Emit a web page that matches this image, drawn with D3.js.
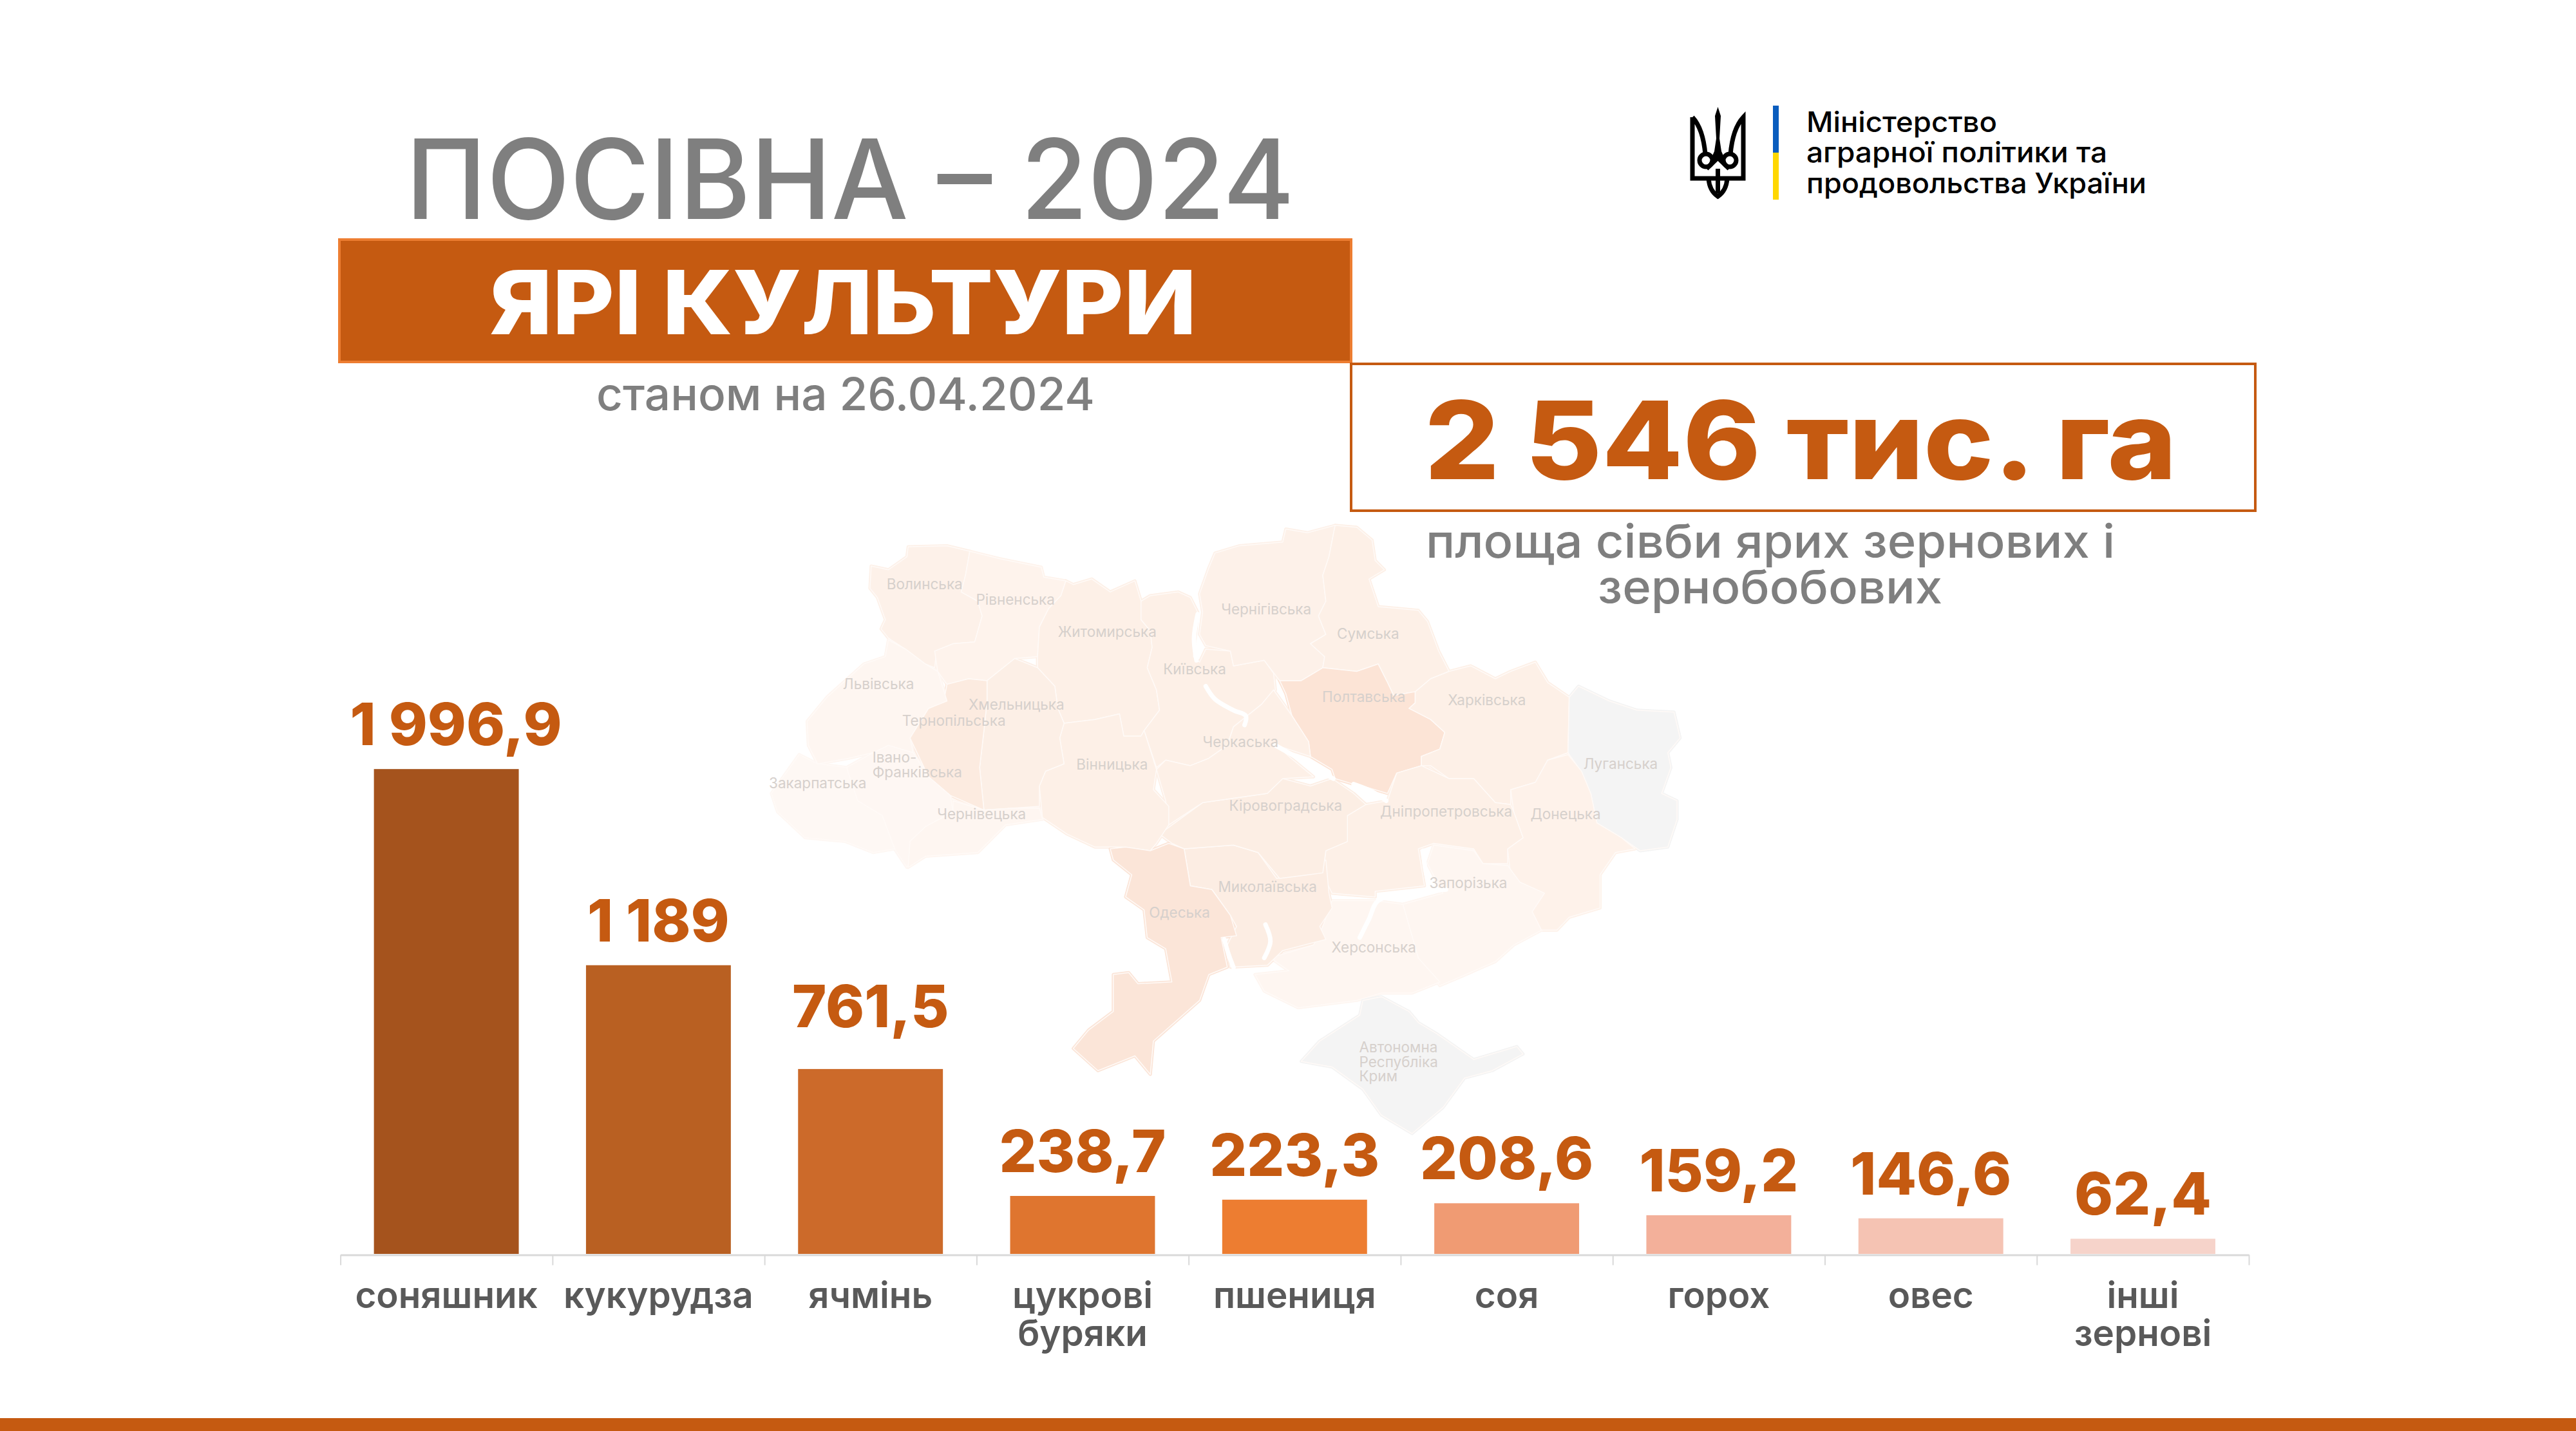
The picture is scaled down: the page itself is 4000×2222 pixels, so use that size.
<!DOCTYPE html>
<html><head><meta charset="utf-8">
<script src="https://cdn.jsdelivr.net/npm/d3@7/dist/d3.min.js"></script>
<style>html,body{margin:0;padding:0;background:#fff}svg{display:block}text{font-family:Inter,"Noto Sans",sans-serif}</style>
</head><body><svg id="c" width="4000" height="2222"></svg>
<script>
const categories=[["соняшник"],["кукурудза"],["ячмінь"],["цукрові","буряки"],["пшениця"],["соя"],["горох"],["овес"],["інші","зернові"]];
const values=[1996.9,1189,761.5,238.7,223.3,208.6,159.2,146.6,62.4];
const barColors=["#A5531D","#B96022","#CC6A2A","#DF752F","#ED7D31","#F09B73","#F3B09A","#F5C3B3","#F6D3CA"];
const regionNames=["Волинська","Рівненська","Житомирська","Київська","Чернігівська","Сумська","Полтавська","Харківська","Луганська","Донецька","Дніпропетровська","Запорізька","Херсонська","Миколаївська","Кіровоградська","Черкаська","Вінницька","Хмельницька","Тернопільська","Львівська","Івано-Франківська","Закарпатська","Чернівецька","Одеська","Автономна Республіка Крим"];
const regionFills=["#FDF1E9","#FEF3EC","#FDF0E7","#FDF0E7","#FDF1E9","#FDF0E7","#FCE4D6","#FDF0E7","#F4F4F4","#FEF2EA","#FDF0E7","#FEF6F1","#FEF6F1","#FCEDE3","#FCEEE4","#FDF0E7","#FDF0E7","#FCEFE6","#FCEBE0","#FEF6F1","#FEF7F3","#FEF8F4","#FEF6F1","#FBE5D8","#F4F4F4"];
const regionShapes=[
[[212,155],[240,165],[270,130],[272,103],[335,100],[372,115],[365,180],[358,225],[385,250],[392,290],[380,360],[345,365],[318,385],[315,430],[300,420],[268,380],[240,350],[228,325],[235,300],[222,240],[210,215]],
[[372,115],[420,135],[488,158],[492,185],[528,195],[520,235],[500,270],[485,320],[482,400],[445,405],[400,465],[370,460],[335,475],[320,440],[315,385],[345,365],[380,360],[392,290],[385,250],[358,225],[365,180]],
[[528,195],[540,205],[570,190],[600,225],[640,195],[650,250],[650,300],[665,330],[668,375],[660,430],[675,490],[680,545],[655,600],[650,615],[622,615],[615,555],[575,570],[525,580],[515,540],[510,480],[482,430],[482,400],[485,320],[500,270],[520,235]],
[[650,250],[665,235],[710,225],[730,240],[742,280],[735,400],[745,415],[755,380],[795,385],[800,425],[850,410],[865,445],[868,490],[845,530],[800,590],[790,640],[760,675],[730,695],[690,680],[675,700],[655,600],[680,545],[675,490],[660,430],[668,375],[665,330],[650,300]],
[[770,120],[810,100],[880,90],[885,55],[920,65],[965,45],[955,130],[945,180],[950,250],[938,290],[950,340],[925,365],[948,400],[945,430],[910,465],[875,465],[850,410],[800,425],[795,385],[755,370],[745,340],[750,280],[745,230],[760,160]],
[[965,45],[1000,50],[1025,85],[1030,140],[1045,165],[1020,190],[1035,265],[1100,275],[1115,305],[1133,385],[1150,440],[1120,460],[1095,495],[1060,505],[1050,470],[1035,420],[1000,440],[945,430],[948,400],[925,365],[950,340],[938,290],[950,250],[945,180],[955,130]],
[[875,465],[910,465],[945,430],[1000,440],[1035,420],[1050,470],[1060,505],[1095,495],[1095,525],[1085,540],[1120,570],[1143,605],[1135,650],[1105,670],[1105,695],[1065,715],[1050,770],[1020,755],[995,745],[965,730],[960,705],[925,670],[922,630],[895,560],[885,500]],
[[1120,460],[1150,440],[1185,425],[1225,460],[1250,440],[1290,415],[1310,470],[1345,510],[1343,660],[1310,680],[1290,740],[1250,760],[1250,800],[1225,795],[1190,730],[1150,730],[1120,695],[1105,695],[1105,670],[1135,650],[1143,605],[1120,570],[1085,540],[1095,525],[1095,495]],
[[1345,510],[1360,480],[1410,520],[1455,545],[1515,550],[1525,620],[1505,660],[1510,700],[1495,770],[1520,790],[1520,840],[1505,915],[1460,925],[1430,890],[1390,850],[1380,770],[1360,700],[1343,660]],
[[1343,665],[1365,710],[1380,770],[1390,850],[1430,890],[1452,920],[1420,930],[1395,990],[1395,1080],[1345,1105],[1325,1140],[1290,1140],[1270,1040],[1250,990],[1245,920],[1270,890],[1255,820],[1250,760],[1290,740],[1310,680]],
[[1065,715],[1105,695],[1150,730],[1190,730],[1225,795],[1250,800],[1255,820],[1270,890],[1245,920],[1245,960],[1205,960],[1190,920],[1125,905],[1100,920],[1110,1020],[1030,1035],[1030,1050],[960,1040],[945,990],[950,925],[985,900],[985,830],[1015,800],[1050,790]],
[[1125,910],[1190,925],[1205,960],[1245,965],[1265,1010],[1305,1040],[1285,1090],[1300,1140],[1255,1180],[1225,1225],[1170,1265],[1135,1290],[1100,1215],[1075,1070],[1140,1040],[1115,960]],
[[1030,1060],[1075,1070],[1100,1215],[1135,1280],[1090,1310],[1040,1310],[1000,1330],[905,1350],[850,1305],[835,1260],[890,1250],[860,1215],[930,1180],[945,1130],[960,1060]],
[[720,920],[800,910],[840,930],[870,1000],[920,990],[950,950],[955,1040],[960,1080],[940,1130],[950,1165],[880,1195],[855,1235],[795,1240],[790,1180],[805,1130],[795,1100],[765,1030],[730,1020]],
[[680,880],[750,795],[855,770],[880,730],[925,750],[960,730],[995,770],[1015,800],[985,830],[985,900],[950,925],[945,985],[875,1000],[840,930],[800,910],[720,920],[700,905]],
[[675,705],[690,680],[730,695],[760,675],[790,640],[800,590],[845,530],[865,490],[895,560],[922,630],[925,670],[870,640],[890,670],[930,725],[880,730],[855,770],[750,795],[695,855],[690,790]],
[[525,580],[575,570],[615,555],[622,615],[650,615],[655,600],[675,705],[670,760],[695,805],[695,855],[675,905],[665,925],[620,915],[575,915],[530,880],[490,835],[485,750],[495,710],[525,690],[518,620]],
[[400,465],[445,405],[482,430],[510,480],[515,540],[525,580],[518,620],[525,690],[495,710],[485,750],[485,805],[440,810],[395,815],[388,700],[395,600],[400,520]],
[[335,475],[370,460],[400,465],[400,520],[395,600],[388,700],[395,815],[340,775],[305,725],[275,620],[305,540],[330,520]],
[[240,355],[268,380],[300,420],[320,440],[335,520],[305,540],[275,620],[280,660],[240,640],[215,660],[175,675],[125,690],[110,640],[108,575],[140,510],[200,420],[235,400]],
[[280,660],[305,725],[340,775],[345,820],[300,860],[270,970],[250,920],[230,830],[190,790],[172,700],[215,660],[240,640]],
[[125,690],[172,700],[190,790],[230,830],[250,920],[215,930],[170,900],[105,890],[60,820],[50,770],[95,665]],
[[345,790],[395,815],[440,810],[485,810],[490,840],[430,855],[385,930],[300,940],[272,970],[275,900],[300,860],[345,820]],
[[600,920],[625,915],[665,925],[695,905],[720,920],[730,1020],[765,1030],[795,1100],[805,1155],[780,1160],[790,1240],[760,1260],[745,1330],[670,1440],[665,1530],[640,1480],[580,1520],[540,1460],[565,1410],[605,1360],[605,1260],[630,1255],[645,1285],[700,1280],[690,1190],[660,1160],[655,1085],[625,1050],[635,990],[605,950]],
[[1010,1330],[1040,1320],[1085,1360],[1100,1390],[1130,1420],[1190,1490],[1260,1455],[1270,1475],[1220,1520],[1175,1540],[1140,1620],[1090,1690],[1040,1640],[1010,1570],[960,1510],[910,1495],[940,1440],[1005,1370]]
];
const waterLines=[
[[742,285],[736,350],[740,410]],
[[755,480],[770,515],[800,545],[820,560],[818,585]],
[[868,640],[900,670],[940,710],[962,730]],
[[995,745],[1025,765],[1048,790]],
[[1145,1030],[1090,1040],[1035,1060],[1020,1110],[1005,1160]],
[[1108,925],[1112,980],[1120,1030]],
[[785,1165],[792,1205],[800,1240]],
[[852,1125],[860,1170],[850,1215]]
];
const regionLabels=[["Волинська",237,218],["Рівненська",382,260],["Житомирська",515,347],["Київська",686,448],["Чернігівська",780,286],["Сумська",968,352],["Полтавська",944,523],["Харківська",1148,531],["Луганська",1368,704],["Донецька",1282,840],["Дніпропетровська",1038,832],["Запорізька",1118,1027],["Херсонська",959,1201],["Миколаївська",775,1037],["Кіровоградська",793,817],["Черкаська",750,645],["Вінницька",545,706],["Хмельницька",370,544],["Тернопільська",262,587],["Львівська",166,488],["Івано-",214,687],["Франківська",214,727],["Закарпатська",46,756],["Чернівецька",319,840],["Одеська",663,1107],["Автономна",1004,1470],["Республіка",1004,1510],["Крим",1004,1549]];

const svg=d3.select("#c");
svg.append("rect").attr("width",4000).attr("height",2222).attr("fill","#fff");

// map
const mx=d3.scaleLinear().domain([0,1568]).range([1150,2650]);
const my=d3.scaleLinear().domain([0,1568]).range([790,1690]);
const ml=d3.line().x(d=>mx(d[0])).y(d=>my(d[1])).curve(d3.curveLinearClosed);
const wl=d3.line().x(d=>mx(d[0])).y(d=>my(d[1])).curve(d3.curveCatmullRom);
const map=svg.append("g");
map.append("g").selectAll("path").data(regionShapes).join("path").attr("d",ml)
  .attr("fill",(d,i)=>regionFills[i]).attr("stroke",(d,i)=>regionFills[i]).attr("stroke-width",5).attr("stroke-linejoin","round");
map.append("g").selectAll("path").data(regionShapes).join("path").attr("d",ml)
  .attr("fill",(d,i)=>regionFills[i]).attr("stroke","#FFFAF7").attr("stroke-width",1.5).attr("stroke-linejoin","round");
map.append("g").selectAll("path").data(waterLines).join("path").attr("d",wl)
  .attr("fill","none").attr("stroke","#fff").attr("stroke-width",7).attr("stroke-linecap","round");
map.append("g").selectAll("text").data(regionLabels).join("text").text(d=>d[0])
  .attr("x",d=>mx(d[1])).attr("y",d=>my(d[2])).attr("font-size",22.5).attr("fill","#D6D0CC");

// headings
function T(s,x,y,size,fill,weight,anchor,len){const t=svg.append("text").text(s).attr("x",x).attr("y",y).attr("font-size",size).attr("fill",fill).attr("font-weight",weight||400).attr("text-anchor",anchor||"start");
  if(len){t.attr("textLength",len).attr("lengthAdjust","spacingAndGlyphs");}return t;}
T("ПОСІВНА – 2024",630,340,172,"#7F7F7F",500,"start",1380);
svg.append("rect").attr("x",527).attr("y",372).attr("width",1571).attr("height",190).attr("fill","#C55A11").attr("stroke","#ED7D31").attr("stroke-width",4);
T("ЯРІ КУЛЬТУРИ",760,519,137,"#fff",800,"start",1098);
T("станом на 26.04.2024",926,637,70,"#7F7F7F",500,"start",774);
svg.append("rect").attr("x",2098).attr("y",565).attr("width",1404).attr("height",228).attr("fill","none").attr("stroke","#C55A11").attr("stroke-width",4);
T("2 546 тис. га",2212,744,168,"#C55A11",800,"start",1168);
T("площа сівби ярих зернових і",2214,866,72,"#7F7F7F",500,"start",1070);
T("зернобобових",2481,937,72,"#7F7F7F",500,"start",535);

// logo
const logo=svg.append("g");
logo.append("rect").attr("x",2753).attr("y",164).attr("width",9).attr("height",73).attr("fill","#0A5DBE");
logo.append("rect").attr("x",2753).attr("y",237).attr("width",9).attr("height",73).attr("fill","#FFD700");
const tri=logo.append("g").attr("fill","none").attr("stroke","#000").attr("stroke-width",7);
tri.append("path").attr("d","M2628 182V277H2707V182C2694 196 2689 216 2687 240M2628 182C2641 196 2646 216 2648 240");
tri.append("circle").attr("cx",2649).attr("cy",249).attr("r",10);
tri.append("circle").attr("cx",2686).attr("cy",249).attr("r",10);
tri.append("path").attr("d","M2653 277C2654 292 2660 300 2667.5 305C2675 300 2681 292 2682 277M2667.5 262V300M2650 262L2667.5 245L2685 262");
logo.append("path").attr("d","M2667.5 166L2672 180L2670 215L2673 235L2684 260L2667.5 246L2651 260L2662 235L2665 215L2663 180Z").attr("fill","#000");
T("Міністерство",2805,205,44,"#000",500,"start",296);
T("аграрної політики та",2805,252,44,"#000",500,"start",467);
T("продовольства України",2805,300,44,"#000",500,"start",528);

// bars
const x=d3.scaleBand().domain(d3.range(categories.length)).range([528.6,3492]).paddingInner(0.317).paddingOuter(0.158);
const y=d3.scaleLinear().domain([0,2000]).range([1947,1193]);
const fmt=d3.formatLocale({decimal:",",thousands:" ",grouping:[3],currency:["",""]}).format(",.1~f");
svg.append("g").selectAll("rect").data(values).join("rect")
  .attr("x",(d,i)=>x(i)).attr("width",x.bandwidth()).attr("y",d=>y(d)).attr("height",d=>y(0)-y(d)).attr("fill",(d,i)=>barColors[i]);
svg.append("g").selectAll("text").data(values).join("text").text(d=>fmt(d))
  .attr("x",(d,i)=>x(i)+x.bandwidth()/2+(i===0?15:0)).attr("y",(d,i)=>y(d)-37-(i===2?28:0)).attr("text-anchor","middle")
  .attr("font-size",91).attr("font-weight",800).attr("fill","#C55A11");

// axis
const edges=d3.scaleLinear().domain([0,categories.length]).range([528.6,3492]);
const ax=svg.append("g").attr("transform","translate(0,1948.5)").call(d3.axisBottom(edges).tickValues(d3.range(categories.length+1)).tickFormat("").tickSize(16).tickSizeOuter(0));
ax.select(".domain").attr("stroke","#D9D9D9").attr("stroke-width",3);
ax.selectAll(".tick line").attr("stroke","#D9D9D9").attr("stroke-width",2);
const cat=svg.append("g").selectAll("text").data(categories).join("text")
  .attr("text-anchor","middle").attr("font-size",56.5).attr("font-weight",600).attr("fill","#595959");
cat.selectAll("tspan").data((d,i)=>d.map(s=>[s,i])).join("tspan").text(d=>d[0])
  .attr("x",d=>x(d[1])+x.bandwidth()/2).attr("y",(d,j)=>2031+j*59);

// footer
svg.append("rect").attr("x",0).attr("y",2202).attr("width",4000).attr("height",20).attr("fill","#C55A11");
</script></body></html>
